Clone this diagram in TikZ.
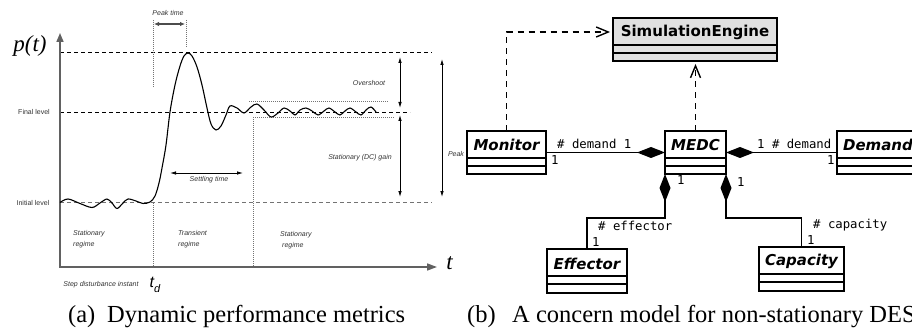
\documentclass[tikz,border=0pt]{standalone}
\usepackage{fontspec}
\setmainfont{Liberation Serif}
\newfontfamily\chartfont{Liberation Sans}
\newfontfamily\umlsans{DejaVu Sans}
\newfontfamily\umlmono{DejaVu Sans Mono}
\usetikzlibrary{arrows.meta,calc}

\begin{document}
\begin{tikzpicture}[x=1pt,y=-1pt,
  % ---- response chart ----
  axis/.style={draw=black!62, line width=1.6pt},
  leveldash/.style={line width=0.8pt, dash pattern=on 4pt off 3pt},
  guide/.style={draw=black!55, line width=0.6pt, dash pattern=on 1pt off 1pt},
  dim/.style={line width=0.8pt, {Latex[length=6pt,width=3.5pt]}-{Latex[length=6pt,width=3.5pt]}},
  dimthick/.style={draw=black!70, line width=1.6pt, {Latex[length=5pt,width=4.5pt]}-{Latex[length=5pt,width=4.5pt]}},
  response/.style={line width=1.1pt},
  note/.style={font=\chartfont\fontsize{7}{11}\selectfont\itshape, inner sep=0pt, text=black!80},
  levelnote/.style={font=\chartfont\fontsize{7}{8}\selectfont, inner sep=0pt, text=black!80},
  mathlabel/.style={font=\fontsize{23}{25}\selectfont\itshape, inner sep=0pt},
  % ---- class diagram ----
  umlbox/.style={draw, line width=1.8pt, fill=white, anchor=north west, inner sep=0pt, outer sep=0pt, minimum height=43pt},
  compart/.style={line width=1.7pt},
  classname/.style={font=\umlsans\bfseries\itshape\fontsize{15}{18}\selectfont, inner sep=0pt},
  rolelabel/.style={font=\umlmono\fontsize{12.3}{14}\selectfont, inner sep=0pt, anchor=base west},
  assoc/.style={line width=1.4pt},
  owner/.tip={Diamond[length=28pt,width=11pt]},
  depend/.style={line width=1.4pt, dash pattern=on 6pt off 5pt, shorten >=3pt,
    -{Straight Barb[length=12pt,width=10pt,line width=1.4pt]}},
  caption/.style={font=\fontsize{24.5}{28}\selectfont, inner sep=0pt, anchor=base west}
]
\useasboundingbox (0,0) rectangle (912,331);

% ================= (a) dynamic performance metrics =================
% reference levels
\draw[leveldash] (60,52) -- (432,52);
\draw[leveldash] (60,112) -- (410,112);
\draw[leveldash, draw=black!55] (60,202) -- (432,202);

% dotted guides
\draw[guide] (153,20) -- (153,88);
\draw[guide] (186,20) -- (186,47);
\draw[guide] (153,203) -- (153,267);
\draw[guide] (253,117) -- (253,267);
\draw[guide] (253,117) -- (394,117);
\draw[guide] (249,101) -- (388,101);

% axes
\draw[axis, {Triangle[length=9pt,width=7pt]}-{Triangle[length=10pt,width=7pt]}] (60,33) -- (60,267) -- (437,267);

% step response
\draw[response] plot[smooth, tension=0.55] coordinates {
  (60,202.5) (68,199) (80,203.5) (92,207.5) (100,203) (107,199) (112,203)
  (117,208.5) (123,203) (128,199) (136,201) (143,203.5) (150,202)
  (155,196) (159,183) (162,168) (166,145) (170,112) (175,85) (180,66)
  (184,56) (188,53) (192,56) (197,67) (202,85) (207,108) (211,124)
  (216,130) (221,126) (226,115) (230,106) (237,108) (244,113) (251,107)
  (257,104) (264,110) (271,117) (278,113) (284,108) (290,111) (295,115)
  (300,110) (306,108) (312,111) (318,115) (324,111) (329,108) (335,112)
  (340,115) (345,111) (350,108) (356,112) (361,115) (366,110) (371,107)
  (376,112)};

% dimension arrows
\draw[dimthick] (154,24) -- (185,24);
\draw[dim] (170,173) -- (243,173);
\draw[dim] (400,57) -- (400,108);
\draw[dim] (400,115) -- (400,197);
\draw[dim] (442,59) -- (442,197);

% chart labels
\node[mathlabel] (pt) at (30,46) {p(t)};
\node[mathlabel] (tx) at (449.5,263) {t};
\node[font=\chartfont\fontsize{16}{18}\selectfont\itshape, inner sep=0pt] (td) at (155,285) {t\raisebox{-0.35em}{\fontsize{11}{12}\selectfont d}};
\node[note] (peaktime) at (168,13) {Peak time};
\node[note] (overshoot) at (369,83) {Overshoot};
\node[note] (gain) at (360,158) {Stationary (DC) gain};
\node[note] (settling) at (209,180) {Settling time};
\node[note] (peak) at (456,154) {Peak};
\node[levelnote] (final) at (34,112) {Final level};
\node[levelnote] (initial) at (33,203) {Initial level};
\node[note, anchor=west, align=left] (reg1) at (73,239) {Stationary\\regime};
\node[note, anchor=west, align=left] (reg2) at (178,239) {Transient\\regime};
\node[note, anchor=west, align=left] (reg3) at (280,240) {Stationary\\\hspace*{2pt}regime};
\node[note] (step) at (101,285) {Step disturbance instant};

% ================= (b) concern model =================
\node[umlbox, fill=black!12, minimum width=164pt] (simeng) at (613,18) {};
\node[umlbox, minimum width=79pt] (monitor) at (467,131) {};
\node[umlbox, minimum width=61pt] (medc) at (665,131) {};
\node[umlbox, minimum width=82pt] (demand) at (837,131) {};
\node[umlbox, minimum width=80pt, minimum height=44pt] (effector) at (547,249) {};
\node[umlbox, minimum width=85pt, minimum height=44pt] (capacity) at (759,247) {};

\foreach \c in {simeng,monitor,medc,demand,effector,capacity}{
  \draw[compart] ($(\c.north west)+(0,27)$) -- ($(\c.north east)+(0,27)$)
                 ($(\c.north west)+(0,35)$) -- ($(\c.north east)+(0,35)$);
}

\node[classname, font=\umlsans\bfseries\fontsize{15}{18}\selectfont] (simeng-name) at ($(simeng.north)+(0,14)$) {SimulationEngine};
\node[classname] (monitor-name) at ($(monitor.north)+(0,14)$) {Monitor};
\node[classname] (medc-name) at ($(medc.north)+(0,14)$) {MEDC};
\node[classname] (demand-name) at ($(demand.north)+(0,14)$) {Demand};
\node[classname] (effector-name) at ($(effector.north)+(0,14.5)$) {Effector};
\node[classname] (capacity-name) at ($(capacity.north)+(0,14)$) {Capacity};

\coordinate (simtitle) at ($(simeng.north west)+(0,14)$);

% dependencies
\draw[depend] (monitor.north) |- (simtitle);
\draw[depend] (medc.north) -- (medc.north |- simeng.south);

% compositions
\draw[assoc, -{owner}] (monitor.east) -- (medc.west);
\draw[assoc, {owner}-] (medc.east) -- (demand.west);
\draw[assoc, {owner}-] (medc.south west) -- ++(0,44) -| (effector.north);
\draw[assoc, {owner}-] (medc.south east) -- ++(0,44) -| (capacity.north);

% role and multiplicity labels
\node[rolelabel] (l1) at (557,149) {\# demand 1};
\node[rolelabel] (l2) at (551,165) {1};
\node[rolelabel] (l3) at (757,149) {1 \# demand};
\node[rolelabel] (l4) at (827,165) {1};
\node[rolelabel] (l5) at (677,185) {1};
\node[rolelabel] (l6) at (598,230) {\# effector};
\node[rolelabel] (l7) at (592,246) {1};
\node[rolelabel] (l8) at (737,186) {1};
\node[rolelabel] (l9) at (813,228) {\# capacity};
\node[rolelabel] (l10) at (807,244) {1};

% captions
\node[caption] (capa-tag) at (68,322) {(a)};
\node[caption] (capa) at (107,322) {Dynamic performance metrics};
\node[caption] (capb-tag) at (467,322) {(b)};
\node[caption] (capb) at (512,322) {A concern model for non-stationary DES};
\end{tikzpicture}
\end{document}
